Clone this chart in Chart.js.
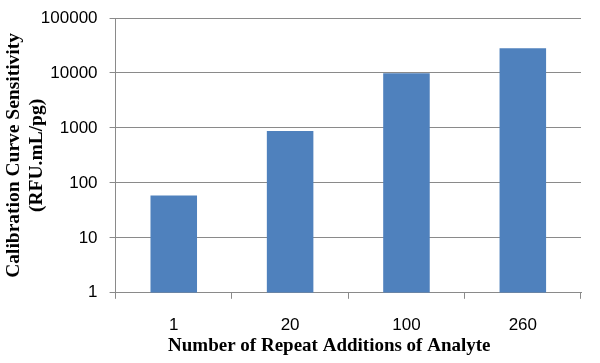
<!DOCTYPE html>
<html>
<head>
<meta charset="utf-8">
<script src="https://cdn.jsdelivr.net/npm/chart.js@4/dist/chart.umd.min.js"></script>
<style>
  html, body { margin: 0; padding: 0; background: #fff; }
  #wrap { width: 600px; height: 363px; }
</style>
</head>
<body>
<div id="wrap"><canvas id="sensitivityChart"></canvas></div>
<script>
const repeatAdditions = ['1', '20', '100', '260'];
const sensitivity = [59, 880, 9900, 28300];
const yTickValues = [1, 10, 100, 1000, 10000, 100000];

const gridGrey = '#8a8a8a';
// trailing no-break spaces nudge the centred x title left, as in the original
const xTitlePad = '\u00a0'.repeat(8);

new Chart(document.getElementById('sensitivityChart'), {
    type: 'bar',
    data: {
        labels: repeatAdditions,
        datasets: [{
            label: 'Sensitivity',
            data: sensitivity,
            backgroundColor: '#4f81bd',
            borderWidth: 0,
            barPercentage: 0.4,
            categoryPercentage: 1.0
        }]
    },
    options: {
        responsive: true,
        maintainAspectRatio: false,
        animation: false,
        layout: { padding: { top: 18, right: 19, left: 3, bottom: 6 } },
        plugins: {
            legend: { display: false },
            tooltip: { enabled: false }
        },
        scales: {
            x: {
                grid: {
                    offset: true,
                    drawOnChartArea: false,
                    drawTicks: true,
                    tickLength: 6,
                    color: gridGrey
                },
                border: { color: gridGrey, width: 1 },
                ticks: {
                    color: '#000',
                    padding: 16,
                    font: { family: 'Liberation Sans, Arial', size: 17 }
                },
                title: {
                    display: true,
                    text: 'Number of Repeat Additions of Analyte' + xTitlePad,
                    color: '#000',
                    padding: { top: -17, bottom: 0 },
                    font: { family: 'Liberation Serif, Times New Roman', size: 19, weight: 'bold' }
                }
            },
            y: {
                type: 'logarithmic',
                min: 1,
                max: 100000,
                afterBuildTicks: axis => {
                    axis.ticks = yTickValues.map(v => ({ value: v }));
                },
                afterFit: axis => {
                    axis.paddingTop = 0;
                },
                grid: {
                    color: gridGrey,
                    drawTicks: true,
                    tickLength: 6
                },
                border: { color: gridGrey, width: 1 },
                ticks: {
                    color: '#000',
                    padding: 12,
                    font: { family: 'Liberation Sans, Arial', size: 17 },
                    callback: value => String(value)
                },
                title: {
                    display: true,
                    text: ['Calibration Curve Sensitivity', '(RFU.mL/pg)'],
                    color: '#000',
                    padding: { top: 0, bottom: -19 },
                    font: { family: 'Liberation Serif, Times New Roman', size: 19.5, weight: 'bold', lineHeight: 1.15 }
                }
            }
        }
    }
});
</script>
</body>
</html>
